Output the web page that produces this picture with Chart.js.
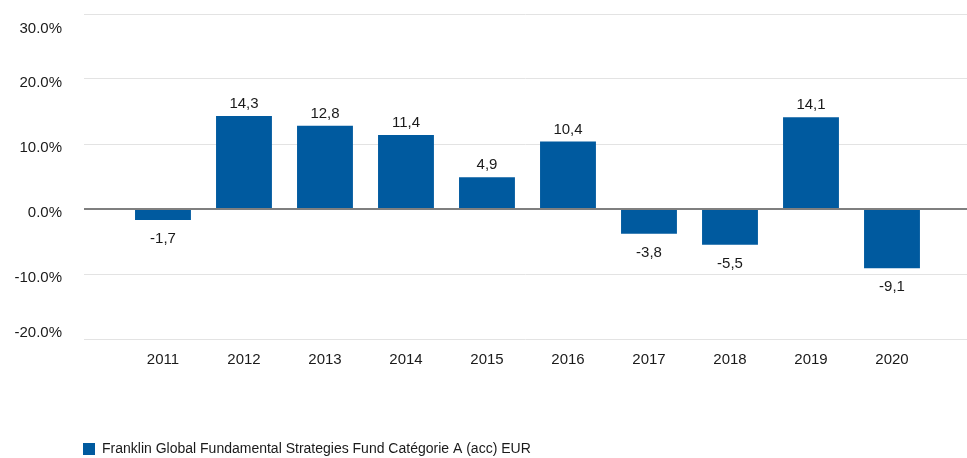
<!DOCTYPE html>
<html lang="fr">
<head>
  <meta charset="UTF-8">
  <title>Performance annuelle</title>
  <script src="https://cdn.jsdelivr.net/npm/chart.js"></script>
  <style>
    body { margin: 0; background: #fff; }
    #wrap { width: 967px; height: 458px; }
  </style>
</head>
<body>
  <div id="wrap"><canvas id="chart" width="967" height="458"></canvas></div>
  <script>
    const years = ['2011', '2012', '2013', '2014', '2015', '2016', '2017', '2018', '2019', '2020'];
    const returns = [-1.7, 14.3, 12.8, 11.4, 4.9, 10.4, -3.8, -5.5, 14.1, -9.1];
    const yTicks = [-20, -10, 0, 10, 20, 30];
    const seriesName = 'Franklin Global Fundamental Strategies Fund Catégorie A (acc) EUR';

    const FONT = "'Liberation Sans', Arial, sans-serif";
    const TEXT = '#1a1a1a';
    const BLUE = '#005a9f';

    // numbers above / below each bar, french decimal comma
    const valueLabels = {
      id: 'valueLabels',
      afterDatasetsDraw(chart) {
        const ctx = chart.ctx;
        ctx.save();
        ctx.font = '15px ' + FONT;
        ctx.fillStyle = TEXT;
        ctx.textAlign = 'center';
        ctx.textBaseline = 'middle';
        chart.getDatasetMeta(0).data.forEach((bar, i) => {
          const v = returns[i];
          const y = v >= 0 ? bar.y - 12 : bar.y + 19;
          ctx.fillText(v.toFixed(1).replace('.', ','), bar.x, y);
        });
        ctx.restore();
      }
    };

    // legend sits under the plot, lined up with the grid
    const legendPlace = {
      id: 'legendPlace',
      afterLayout(chart) {
        chart.legend.left = 82;
        chart.legend.top = 441;
      }
    };

    new Chart(document.getElementById('chart'), {
      type: 'bar',
      data: {
        datasets: [{
          label: seriesName,
          data: returns.map((v, i) => ({ x: i, y: v })),
          backgroundColor: BLUE,
          borderWidth: 0,
          categoryPercentage: 1,
          barPercentage: 0.69
        }]
      },
      options: {
        responsive: false,
        animation: false,
        layout: { padding: { top: 14, left: 0, right: 0, bottom: 0 } },
        scales: {
          x: {
            type: 'linear',
            offset: false,
            min: -0.975,
            max: 9.926,
            afterBuildTicks: s => { s.ticks = years.map((_, i) => ({ value: i })); },
            ticks: {
              callback: v => years[v],
              font: { size: 15, family: FONT },
              color: TEXT,
              padding: 4,
              maxRotation: 0,
              autoSkip: false
            },
            grid: { display: false, offset: false },
            border: { display: false },
            afterFit: s => { s.height = 94; s.paddingLeft = 0; s.paddingRight = 0; }
          },
          y: {
            min: -20,
            max: 30,
            afterBuildTicks: s => { s.ticks = yTicks.map(v => ({ value: v })); },
            ticks: {
              callback: v => {
                const t = v.toFixed(1) + '%';
                if (v === 30) return ['', t];
                if (v === -20) return [t, ''];
                return t;
              },
              font: { size: 15, family: FONT, lineHeight: 1.4 },
              color: TEXT,
              padding: 22,
              labelOffset: 4
            },
            grid: {
              color: c => c.tick && c.tick.value === 0 ? '#7f7f7f' : '#e3e3e3',
              lineWidth: c => c.tick && c.tick.value === 0 ? 2 : 1,
              drawTicks: false
            },
            border: { display: false },
            afterFit: s => { s.width = 84; s.paddingTop = 0; s.paddingBottom = 0; }
          }
        },
        plugins: {
          legend: {
            position: 'bottom',
            align: 'start',
            labels: {
              boxWidth: 12,
              boxHeight: 12,
              padding: 1,
              color: TEXT,
              font: { size: 14, family: FONT }
            }
          },
          tooltip: { enabled: false }
        }
      },
      plugins: [valueLabels, legendPlace]
    });
  </script>
</body>
</html>
